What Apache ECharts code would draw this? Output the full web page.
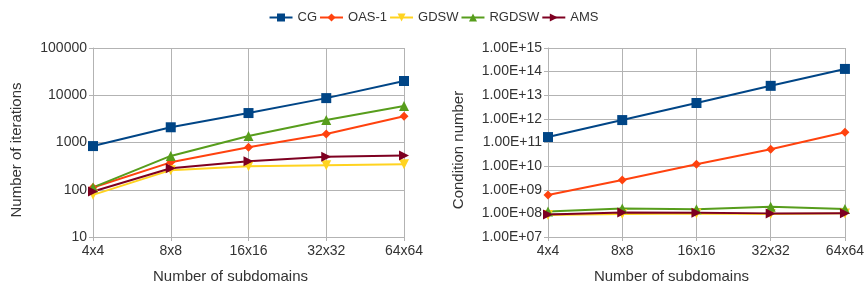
<!DOCTYPE html>
<html>
<head>
<meta charset="utf-8">
<script src="https://cdn.jsdelivr.net/npm/echarts@6/dist/echarts.min.js"></script>
<style>
html,body{margin:0;padding:0;background:#fff;}
#chart{width:867px;height:291px;}
</style>
</head>
<body>
<div id="chart"></div>
<script>
var categories = ['4x4', '8x8', '16x16', '32x32', '64x64'];

// number of iterations (left chart)
var itCG    = [840, 2100, 4200, 8700, 20000];
var itOAS1  = [112, 380, 790, 1520, 3600];
var itGDSW  = [78, 260, 315, 330, 345];
var itRGDSW = [112, 520, 1370, 3000, 5900];
var itAMS   = [92, 285, 400, 500, 530];

// condition number (right chart)
var cnCG    = [1.7e11, 8.9e11, 4.7e12, 2.5e13, 1.3e14];
var cnOAS1  = [6.0e8, 2.6e9, 1.2e10, 5.2e10, 2.7e11];
var cnGDSW  = [8.5e7, 9.5e7, 9.8e7, 9.5e7, 1.0e8];
var cnRGDSW = [1.2e8, 1.6e8, 1.5e8, 1.9e8, 1.55e8];
var cnAMS   = [9.0e7, 1.1e8, 1.05e8, 1.0e8, 1.02e8];

var names = ['CG', 'OAS-1', 'GDSW', 'RGDSW', 'AMS'];
var colors = ['#004586', '#ff420e', '#ffd320', '#579d1c', '#7e0021'];
var symbols = ['rect', 'diamond', 'triangle', 'triangle', 'triangle'];
var rotates = [0, 0, 180, 0, -90];
var sizes = [10, 9, 10, 10, 10];

var font = 'Liberation Sans';
var gridColor = '#b3b3b3';

function fmtExp(v) {
  var e = Math.round(Math.log10(v));
  return '1.00E+' + (e < 10 ? '0' + e : e);
}

function makeAxes(idx, yName, gap, fmt, xShift) {
  return {
    x: {
      type: 'category', gridIndex: idx, data: categories, boundaryGap: false,
      name: 'Number of subdomains', nameLocation: 'middle', nameGap: 32,
      nameTextStyle: { fontFamily: font, fontSize: 15, color: '#333', padding: [0, xShift, 0, 0] },
      axisLine: { lineStyle: { color: gridColor } },
      axisTick: { show: true, alignWithLabel: true, length: 4, lineStyle: { color: gridColor } },
      axisLabel: { fontFamily: font, fontSize: 14, color: '#333', margin: 7 },
      splitLine: { show: true, lineStyle: { color: gridColor } }
    },
    y: {
      type: 'log', gridIndex: idx, logBase: 10, min: fmt ? 1e7 : 10, max: fmt ? 1e15 : 100000,
      name: yName, nameLocation: 'middle', nameGap: gap,
      nameTextStyle: { fontFamily: font, fontSize: 15, color: '#333', padding: [0, 15, 0, 0] },
      axisLine: { show: true, lineStyle: { color: gridColor } },
      axisTick: { show: true, length: 4, lineStyle: { color: gridColor } },
      axisLabel: { fontFamily: font, fontSize: 14, color: '#333', margin: 6,
        formatter: fmt ? fmtExp : function (v) { return String(Math.round(v)); } },
      splitLine: { show: true, lineStyle: { color: gridColor } }
    }
  };
}

var left = makeAxes(0, 'Number of iterations', 69, false, 36);
var right = makeAxes(1, 'Condition number', 82, true, 50);

var itData = [itCG, itOAS1, itGDSW, itRGDSW, itAMS];
var cnData = [cnCG, cnOAS1, cnGDSW, cnRGDSW, cnAMS];
var series = [];
function addSeries(dataSet, axisIdx) {
  for (var i = 0; i < names.length; i++) {
    series.push({
      name: names[i], type: 'line', xAxisIndex: axisIdx, yAxisIndex: axisIdx,
      data: dataSet[i], symbol: symbols[i], symbolRotate: rotates[i], symbolSize: sizes[i],
      showSymbol: true,
      lineStyle: { width: 2, color: colors[i] },
      itemStyle: { color: colors[i] }
    });
  }
}
addSeries(itData, 0);
addSeries(cnData, 1);

var chart = echarts.init(document.getElementById('chart'), null, { renderer: 'canvas' });
chart.setOption({
  animation: false,
  backgroundColor: '#fff',
  color: colors,
  legend: {
    data: names, top: 6, left: 'center', itemWidth: 23, itemHeight: 10, itemGap: 2,
    textStyle: { fontFamily: font, fontSize: 13, color: '#333' }
  },
  grid: [
    { left: 93, right: 463, top: 48, bottom: 54 },
    { left: 548, right: 21, top: 48, bottom: 54 }
  ],
  xAxis: [left.x, right.x],
  yAxis: [left.y, right.y],
  series: series
});
</script>
</body>
</html>
